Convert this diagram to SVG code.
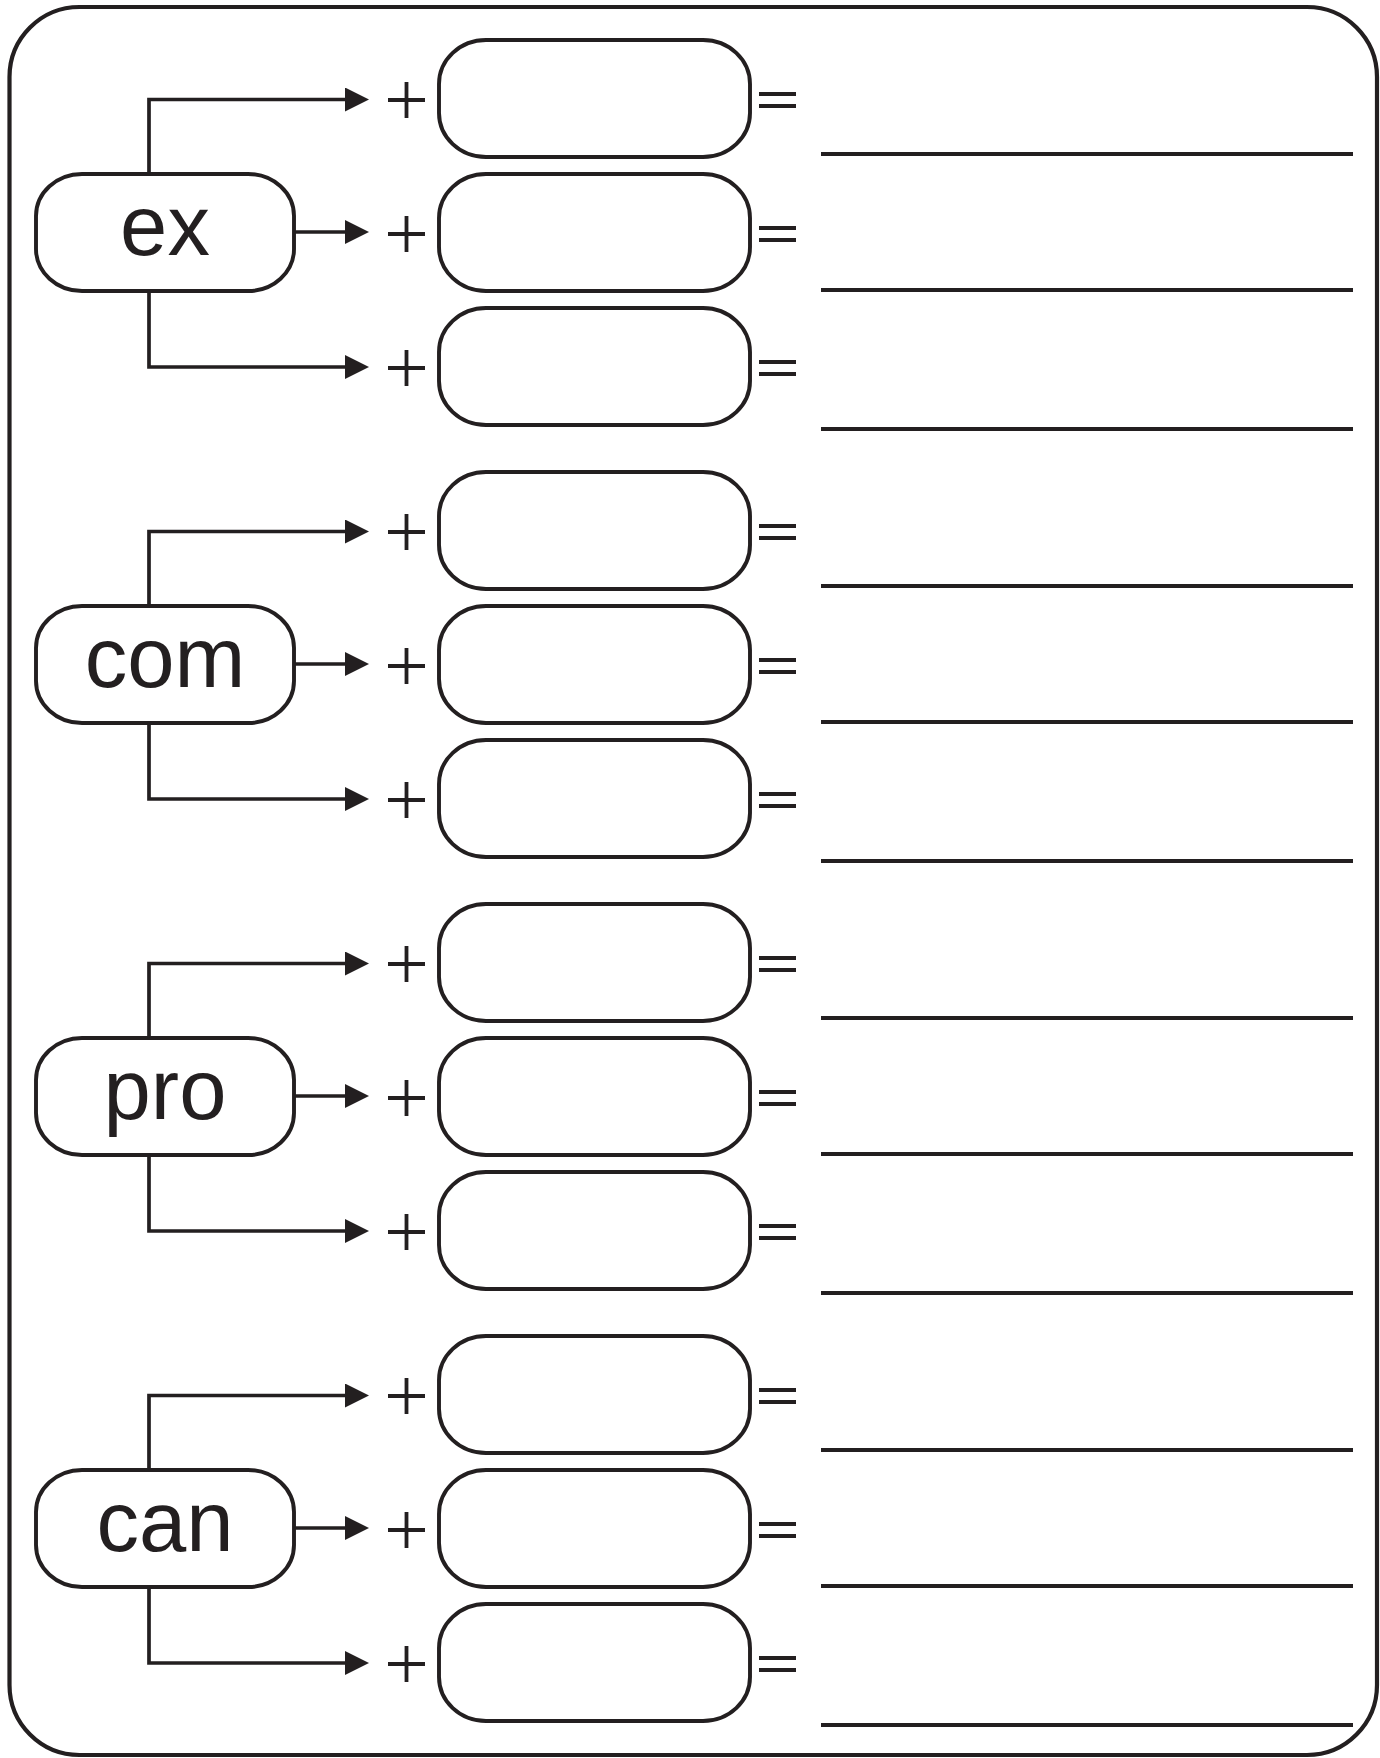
<svg xmlns="http://www.w3.org/2000/svg" width="1380" height="1758" viewBox="0 0 1380 1758">
<defs>
<style>
.ln{fill:none;stroke:#231f20;stroke-width:3.7}
.box{fill:#fff;stroke:#231f20;stroke-width:3.9}
.sym{stroke:#231f20;stroke-width:3.8;fill:none}
.lbl{font-family:"Liberation Sans","DejaVu Sans",sans-serif;font-size:85px;fill:#231f20;text-anchor:middle}
</style>
<marker id="ah" markerUnits="userSpaceOnUse" markerWidth="26" markerHeight="26" refX="0" refY="12" orient="auto" viewBox="0 0 26 26">
<path d="M0,0 L24,12 L0,24 Z" fill="#231f20"/>
</marker>
<g id="rowsym">
<path class="sym" d="M388,100 H425 M406.5,82 V118"/>
<path class="sym" d="M759,94 H796 M759,106 H796"/>
</g>
<rect id="abox" x="439" y="40" width="311" height="117" rx="47" ry="44"/>
</defs>
<rect x="9.5" y="7" width="1367.5" height="1748" rx="70" ry="70" fill="#fff" stroke="#231f20" stroke-width="4.2"/>

<g id="connectors">
<g id="conn-ex">
<path class="ln" marker-end="url(#ah)" d="M149,174 V99.5 H345"/>
<path class="ln" marker-end="url(#ah)" d="M294,232 H345"/>
<path class="ln" marker-end="url(#ah)" d="M149,291 V367 H345"/>
</g>
<g id="conn-com" transform="translate(0,432)">
<path class="ln" marker-end="url(#ah)" d="M149,174 V99.5 H345"/>
<path class="ln" marker-end="url(#ah)" d="M294,232 H345"/>
<path class="ln" marker-end="url(#ah)" d="M149,291 V367 H345"/>
</g>
<g id="conn-pro" transform="translate(0,864)">
<path class="ln" marker-end="url(#ah)" d="M149,174 V99.5 H345"/>
<path class="ln" marker-end="url(#ah)" d="M294,232 H345"/>
<path class="ln" marker-end="url(#ah)" d="M149,291 V367 H345"/>
</g>
<g id="conn-can" transform="translate(0,1296)">
<path class="ln" marker-end="url(#ah)" d="M149,174 V99.5 H345"/>
<path class="ln" marker-end="url(#ah)" d="M294,232 H345"/>
<path class="ln" marker-end="url(#ah)" d="M149,291 V367 H345"/>
</g>
</g>

<g id="group-ex">
<g id="node-ex"><rect class="box" x="36" y="174" width="258" height="117" rx="46" ry="42"/><text class="lbl" x="165" y="254.5">ex</text></g>
<g id="ex-1"><use href="#rowsym"/><use href="#abox" class="box"/><line class="sym" x1="821" y1="154" x2="1353" y2="154"/></g>
<g id="ex-2" transform="translate(0,134)"><use href="#rowsym"/><use href="#abox" class="box"/><line class="sym" x1="821" y1="156" x2="1353" y2="156"/></g>
<g id="ex-3" transform="translate(0,268)"><use href="#rowsym"/><use href="#abox" class="box"/><line class="sym" x1="821" y1="161" x2="1353" y2="161"/></g>
</g>

<g id="group-com" transform="translate(0,432)">
<g id="node-com"><rect class="box" x="36" y="174" width="258" height="117" rx="46" ry="42"/><text class="lbl" x="165" y="254.5">com</text></g>
<g id="com-1"><use href="#rowsym"/><use href="#abox" class="box"/><line class="sym" x1="821" y1="154" x2="1353" y2="154"/></g>
<g id="com-2" transform="translate(0,134)"><use href="#rowsym"/><use href="#abox" class="box"/><line class="sym" x1="821" y1="156" x2="1353" y2="156"/></g>
<g id="com-3" transform="translate(0,268)"><use href="#rowsym"/><use href="#abox" class="box"/><line class="sym" x1="821" y1="161" x2="1353" y2="161"/></g>
</g>

<g id="group-pro" transform="translate(0,864)">
<g id="node-pro"><rect class="box" x="36" y="174" width="258" height="117" rx="46" ry="42"/><text class="lbl" x="165" y="254.5">pro</text></g>
<g id="pro-1"><use href="#rowsym"/><use href="#abox" class="box"/><line class="sym" x1="821" y1="154" x2="1353" y2="154"/></g>
<g id="pro-2" transform="translate(0,134)"><use href="#rowsym"/><use href="#abox" class="box"/><line class="sym" x1="821" y1="156" x2="1353" y2="156"/></g>
<g id="pro-3" transform="translate(0,268)"><use href="#rowsym"/><use href="#abox" class="box"/><line class="sym" x1="821" y1="161" x2="1353" y2="161"/></g>
</g>

<g id="group-can" transform="translate(0,1296)">
<g id="node-can"><rect class="box" x="36" y="174" width="258" height="117" rx="46" ry="42"/><text class="lbl" x="165" y="254.5">can</text></g>
<g id="can-1"><use href="#rowsym"/><use href="#abox" class="box"/><line class="sym" x1="821" y1="154" x2="1353" y2="154"/></g>
<g id="can-2" transform="translate(0,134)"><use href="#rowsym"/><use href="#abox" class="box"/><line class="sym" x1="821" y1="156" x2="1353" y2="156"/></g>
<g id="can-3" transform="translate(0,268)"><use href="#rowsym"/><use href="#abox" class="box"/><line class="sym" x1="821" y1="161" x2="1353" y2="161"/></g>
</g>
</svg>
